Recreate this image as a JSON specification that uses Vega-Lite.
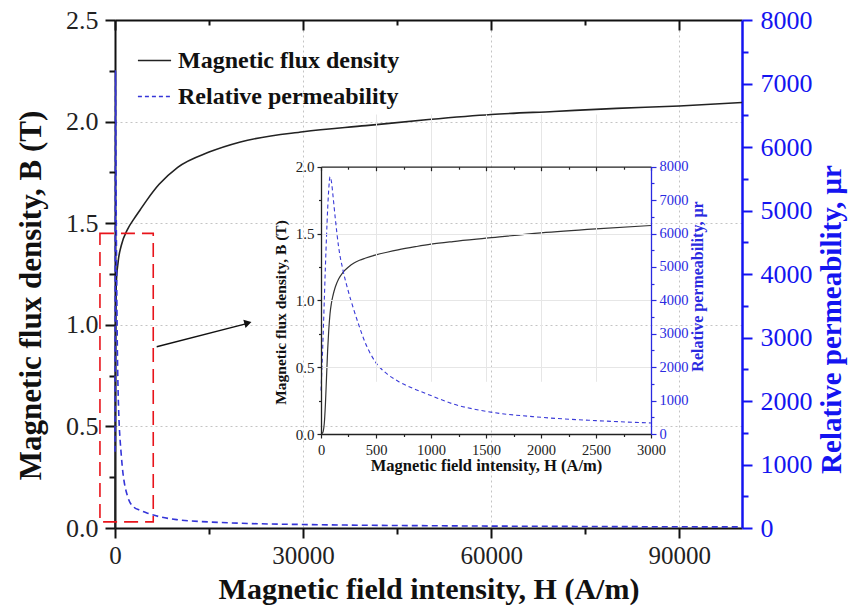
{
  "$schema": "https://vega.github.io/schema/vega-lite/v6.json",
  "width": 627,
  "height": 508,
  "autosize": {"type": "none"},
  "padding": {"left": 115, "top": 20, "right": 116, "bottom": 85},
  "background": "white",
  "config": {"view": {"stroke": null}, "font": "Liberation Serif"},
  "datasets": {
    "main": [
      {"H": 0, "B": 0, "mu": 1200},
      {"H": 80, "B": 0.9, "mu": 7200},
      {"H": 200, "B": 1.2, "mu": 4900},
      {"H": 500, "B": 1.31, "mu": 2130},
      {"H": 1000, "B": 1.39, "mu": 1150},
      {"H": 2000, "B": 1.47, "mu": 500},
      {"H": 3000, "B": 1.52, "mu": 330},
      {"H": 4000, "B": 1.565, "mu": 280},
      {"H": 5000, "B": 1.61, "mu": 240},
      {"H": 7000, "B": 1.69, "mu": 180},
      {"H": 10000, "B": 1.775, "mu": 130},
      {"H": 15000, "B": 1.85, "mu": 95},
      {"H": 20000, "B": 1.9, "mu": 75},
      {"H": 30000, "B": 1.95, "mu": 55},
      {"H": 40000, "B": 1.98, "mu": 43},
      {"H": 50000, "B": 2.01, "mu": 36},
      {"H": 60000, "B": 2.035, "mu": 30},
      {"H": 70000, "B": 2.05, "mu": 26},
      {"H": 80000, "B": 2.065, "mu": 22},
      {"H": 90000, "B": 2.077, "mu": 19},
      {"H": 100000, "B": 2.094, "mu": 17}
    ],
    "inset": [
      {"H": 0, "B": 0, "mu": 1300},
      {"H": 10, "B": 0.005, "mu": 2100},
      {"H": 20, "B": 0.02, "mu": 3000},
      {"H": 30, "B": 0.08, "mu": 4000},
      {"H": 40, "B": 0.22, "mu": 5000},
      {"H": 50, "B": 0.42, "mu": 5900},
      {"H": 60, "B": 0.62, "mu": 6700},
      {"H": 70, "B": 0.77, "mu": 7300},
      {"H": 82, "B": 0.9, "mu": 7700},
      {"H": 95, "B": 0.98, "mu": 7550},
      {"H": 110, "B": 1.04, "mu": 7100},
      {"H": 130, "B": 1.1, "mu": 6450},
      {"H": 160, "B": 1.16, "mu": 5600},
      {"H": 200, "B": 1.21, "mu": 4900},
      {"H": 250, "B": 1.25, "mu": 4250},
      {"H": 300, "B": 1.28, "mu": 3700},
      {"H": 350, "B": 1.3, "mu": 3200},
      {"H": 400, "B": 1.315, "mu": 2750},
      {"H": 500, "B": 1.34, "mu": 2130},
      {"H": 600, "B": 1.36, "mu": 1800},
      {"H": 700, "B": 1.378, "mu": 1580},
      {"H": 870, "B": 1.403, "mu": 1320},
      {"H": 1000, "B": 1.42, "mu": 1150},
      {"H": 1200, "B": 1.44, "mu": 900},
      {"H": 1500, "B": 1.465, "mu": 680},
      {"H": 2000, "B": 1.505, "mu": 500},
      {"H": 2500, "B": 1.535, "mu": 400},
      {"H": 3000, "B": 1.56, "mu": 330}
    ],
    "box": [{"x1": -2400, "x2": 6100, "y1": 0.03, "y2": 1.45}],
    "arrow": [{"x1": 6650, "y1": 0.892, "x2": 21000, "y2": 1.006, "hx": 21200, "hy": 1.009}]
  },
  "layer": [
    {
      "data": {"name": "main"},
      "mark": {"type": "point", "opacity": 0},
      "encoding": {
        "x": {"field": "H", "type": "quantitative", "scale": {"domain": [0, 100000], "nice": false},
          "axis": {"orient": "bottom", "values": [30000, 60000, 90000], "grid": true, "gridColor": "#c4c4c4", "gridDash": [2, 3], "gridWidth": 1,
            "ticks": false, "labels": false, "domain": false, "title": null}},
        "y": {"field": "B", "type": "quantitative", "scale": {"domain": [0, 2.5], "nice": false},
          "axis": {"orient": "left", "values": [0.5, 1, 1.5, 2], "grid": true, "gridColor": "#c4c4c4", "gridDash": [2, 3], "gridWidth": 1,
            "ticks": false, "labels": false, "domain": false, "title": null}}
      }
    },
    {
      "data": {"name": "main"},
      "mark": {"type": "line", "strokeWidth": 1.6, "interpolate": "monotone"},
      "encoding": {
        "x": {"field": "H", "type": "quantitative", "scale": {"domain": [0, 100000], "nice": false},
          "axis": {"orient": "bottom", "values": [0, 15000, 30000, 45000, 60000, 75000, 90000], "format": "d",
            "labelExpr": "datum.value % 30000 === 0 ? datum.label : ''",
            "title": "Magnetic field intensity, H (A/m)",
            "domainColor": "#111", "domainWidth": 2, "tickColor": "#111", "tickWidth": 2,
            "tickSize": {"condition": {"test": "datum.value % 30000 === 0", "value": 10}, "value": 6},
            "grid": false,
            "labelFont": "Liberation Serif", "labelFontSize": 25, "labelColor": "#222", "labelPadding": 5,
            "labelFlush": false, "labelOverlap": false,
            "titleFont": "Liberation Serif", "titleFontSize": 30, "titleFontWeight": "bold", "titleColor": "#111", "titlePadding": 6}},
        "y": {"field": "B", "type": "quantitative", "scale": {"domain": [0, 2.5], "nice": false},
          "axis": {"orient": "left", "values": [0, 0.25, 0.5, 0.75, 1, 1.25, 1.5, 1.75, 2, 2.25, 2.5],
            "labelExpr": "datum.value % 0.5 === 0 ? format(datum.value, '.1f') : ''",
            "title": "Magnetic flux density, B (T)", "titleY": 275,
            "domainColor": "#111", "domainWidth": 2, "tickColor": "#111", "tickWidth": 2,
            "tickSize": {"condition": {"test": "datum.value % 0.5 === 0", "value": 10}, "value": 6},
            "grid": false,
            "labelFont": "Liberation Serif", "labelFontSize": 26, "labelColor": "#222", "labelPadding": 7,
            "labelFlush": false, "labelOverlap": false,
            "titleFont": "Liberation Serif", "titleFontSize": 31, "titleFontWeight": "bold", "titleColor": "#111", "titlePadding": 18}},
        "color": {"datum": "Magnetic flux density", "type": "nominal",
          "scale": {"domain": ["Magnetic flux density", "Relative permeability"], "range": ["#222222", "#3535d8"]},
          "legend": {"orient": "none", "legendX": 22, "legendY": 23, "title": null, "padding": 0,
            "labelFont": "Liberation Serif", "labelFontSize": 24, "labelFontWeight": "bold", "labelColor": "#111",
            "symbolType": "stroke", "symbolSize": 1100, "symbolStrokeWidth": 1.6, "labelOffset": 6, "rowPadding": 6, "labelLimit": 500,
            "encode": {"symbols": {"update": {"strokeDash": {"signal": "datum.value === 'Relative permeability' ? [4, 3] : []"}}}}}}
      }
    },
    {
      "data": {"name": "main"},
      "mark": {"type": "line", "strokeWidth": 1.6, "strokeDash": [6, 4], "interpolate": "monotone"},
      "encoding": {
        "x": {"field": "H", "type": "quantitative", "scale": {"domain": [0, 100000], "nice": false}, "axis": null},
        "y": {"field": "mu", "type": "quantitative", "scale": {"domain": [0, 8000], "nice": false},
          "axis": {"orient": "right", "values": [0, 500, 1000, 1500, 2000, 2500, 3000, 3500, 4000, 4500, 5000, 5500, 6000, 6500, 7000, 7500, 8000], "format": "d",
            "labelExpr": "datum.value % 1000 === 0 ? datum.label : ''",
            "title": "Relative permeability, μr", "titleAngle": 270, "titleBaseline": "top", "titleY": 299,
            "domainColor": "#1414f0", "domainWidth": 2.5, "tickColor": "#1414f0", "tickWidth": 2,
            "tickSize": {"condition": {"test": "datum.value % 1000 === 0", "value": 10}, "value": 6},
            "grid": false,
            "labelFont": "Liberation Serif", "labelFontSize": 26, "labelColor": "#1414f0", "labelPadding": 8,
            "labelFlush": false, "labelOverlap": false,
            "titleFont": "Liberation Serif", "titleFontSize": 29, "titleFontWeight": "bold", "titleColor": "#1414f0", "titlePadding": 5}},
        "color": {"datum": "Relative permeability", "type": "nominal",
          "scale": {"domain": ["Magnetic flux density", "Relative permeability"], "range": ["#222222", "#3535d8"]}}
      }
    },
    {
      "data": {"name": "main"},
      "mark": {"type": "point", "opacity": 0},
      "encoding": {
        "x": {"field": "H", "type": "quantitative", "scale": {"domain": [0, 100000], "nice": false},
          "axis": {"orient": "top", "values": [0, 15000, 30000, 45000, 60000, 75000, 90000], "labels": false, "title": null,
            "domainColor": "#111", "domainWidth": 2, "tickColor": "#111", "tickWidth": 2,
            "tickSize": {"condition": {"test": "datum.value % 30000 === 0", "value": -10}, "value": -5},
            "grid": false}}
      }
    },
    {
      "data": {"name": "box"},
      "mark": {"type": "rect", "fillOpacity": 0, "stroke": "#e8141b", "strokeWidth": 1.6, "strokeDash": [14, 7]},
      "encoding": {
        "x": {"field": "x1", "type": "quantitative", "scale": {"domain": [0, 100000], "nice": false}, "axis": null},
        "x2": {"field": "x2"},
        "y": {"field": "y1", "type": "quantitative", "scale": {"domain": [0, 2.5], "nice": false}, "axis": null},
        "y2": {"field": "y2"}
      }
    },
    {
      "data": {"name": "arrow"},
      "mark": {"type": "rule", "stroke": "#111", "strokeWidth": 1.3},
      "encoding": {
        "x": {"field": "x1", "type": "quantitative", "scale": {"domain": [0, 100000], "nice": false}, "axis": null},
        "x2": {"field": "x2"},
        "y": {"field": "y1", "type": "quantitative", "scale": {"domain": [0, 2.5], "nice": false}, "axis": null},
        "y2": {"field": "y2"}
      }
    },
    {
      "data": {"name": "arrow"},
      "mark": {"type": "point", "shape": "triangle-right", "filled": true, "color": "#111", "opacity": 1, "size": 70, "angle": 345},
      "encoding": {
        "x": {"field": "hx", "type": "quantitative", "scale": {"domain": [0, 100000], "nice": false}, "axis": null},
        "y": {"field": "hy", "type": "quantitative", "scale": {"domain": [0, 2.5], "nice": false}, "axis": null}
      }
    },
    {
      "mark": {"type": "rect", "fill": "white", "stroke": null},
      "encoding": {
        "x": {"datum": -500, "type": "quantitative", "scale": {"domain": [0, 3000], "range": [206, 536], "nice": false}, "axis": null},
        "x2": {"datum": 3500},
        "y": {"datum": -0.35, "type": "quantitative", "scale": {"domain": [0, 2], "range": [414, 146.7], "nice": false}, "axis": null},
        "y2": {"datum": 2.13}
      }
    },
    {
      "data": {"name": "inset"},
      "mark": {"type": "point", "opacity": 0},
      "encoding": {
        "x": {"field": "H", "type": "quantitative", "scale": {"domain": [0, 3000], "range": [206, 536], "nice": false},
          "axis": {"orient": "bottom", "offset": -94, "zindex": 1, "values": [500, 1000, 1500, 2000, 2500], "grid": true, "gridColor": "#e6e6e6", "gridWidth": 1,
            "ticks": false, "labels": false, "domain": false, "title": null}},
        "y": {"field": "B", "type": "quantitative", "scale": {"domain": [0, 2], "range": [414, 146.7], "nice": false},
          "axis": {"orient": "left", "offset": -206, "zindex": 1, "values": [0.5, 1, 1.5], "grid": true, "gridColor": "#e6e6e6", "gridWidth": 1,
            "ticks": false, "labels": false, "domain": false, "title": null}}
      }
    },
    {
      "data": {"name": "inset"},
      "mark": {"type": "line", "strokeWidth": 1.2, "color": "#333333", "interpolate": "monotone"},
      "encoding": {
        "x": {"field": "H", "type": "quantitative", "scale": {"domain": [0, 3000], "range": [206, 536], "nice": false},
          "axis": {"orient": "bottom", "offset": -94, "zindex": 1, "values": [0, 250, 500, 750, 1000, 1250, 1500, 1750, 2000, 2250, 2500, 2750, 3000], "format": "d",
            "labelExpr": "datum.value % 500 === 0 ? datum.label : ''",
            "title": "Magnetic field intensity, H (A/m)",
            "domainColor": "#222", "domainWidth": 1.3, "tickColor": "#222", "tickWidth": 1.2,
            "tickSize": {"condition": {"test": "datum.value % 500 === 0", "value": 4}, "value": 2.5},
            "grid": false,
            "labelFont": "Liberation Serif", "labelFontSize": 14.5, "labelColor": "#222", "labelPadding": 5,
            "labelFlush": false, "labelOverlap": false,
            "titleFont": "Liberation Serif", "titleFontSize": 16.5, "titleFontWeight": "bold", "titleColor": "#111", "titlePadding": 1}},
        "y": {"field": "B", "type": "quantitative", "scale": {"domain": [0, 2], "range": [414, 146.7], "nice": false},
          "axis": {"orient": "left", "offset": -206, "zindex": 1, "values": [0, 0.25, 0.5, 0.75, 1, 1.25, 1.5, 1.75, 2],
            "labelExpr": "datum.value % 0.5 === 0 ? format(datum.value, '.1f') : ''",
            "title": "Magnetic flux density, B (T)", "titleY": 292,
            "domainColor": "#222", "domainWidth": 1.3, "tickColor": "#222", "tickWidth": 1.2,
            "tickSize": {"condition": {"test": "datum.value % 0.5 === 0", "value": 4}, "value": 2.5},
            "grid": false,
            "labelFont": "Liberation Serif", "labelFontSize": 15, "labelColor": "#222", "labelPadding": 3,
            "labelFlush": false, "labelOverlap": false,
            "titleFont": "Liberation Serif", "titleFontSize": 15.5, "titleFontWeight": "bold", "titleColor": "#111", "titlePadding": 7}}
      }
    },
    {
      "data": {"name": "inset"},
      "mark": {"type": "line", "strokeWidth": 1.1, "strokeDash": [4, 3], "color": "#3a3ad8", "interpolate": "monotone"},
      "encoding": {
        "x": {"field": "H", "type": "quantitative", "scale": {"domain": [0, 3000], "range": [206, 536], "nice": false}, "axis": null},
        "y": {"field": "mu", "type": "quantitative", "scale": {"domain": [0, 8000], "range": [414, 146.7], "nice": false},
          "axis": {"orient": "right", "offset": -91, "zindex": 1, "values": [0, 500, 1000, 1500, 2000, 2500, 3000, 3500, 4000, 4500, 5000, 5500, 6000, 6500, 7000, 7500, 8000], "format": "d",
            "labelExpr": "datum.value % 1000 === 0 ? datum.label : ''",
            "title": "Relative permeability, μr", "titleAngle": 270, "titleBaseline": "top", "titleY": 266,
            "domainColor": "#2a2ae0", "domainWidth": 1.3, "tickColor": "#2a2ae0", "tickWidth": 1.2,
            "tickSize": {"condition": {"test": "datum.value % 1000 === 0", "value": 5}, "value": 3},
            "grid": false,
            "labelFont": "Liberation Serif", "labelFontSize": 14.5, "labelColor": "#2a2ae0", "labelPadding": 3,
            "labelFlush": false, "labelOverlap": false,
            "titleFont": "Liberation Serif", "titleFontSize": 16, "titleFontWeight": "bold", "titleColor": "#2a2ae0", "titlePadding": 1}}
      }
    },
    {
      "data": {"name": "inset"},
      "mark": {"type": "point", "opacity": 0},
      "encoding": {
        "x": {"field": "H", "type": "quantitative", "scale": {"domain": [0, 3000], "range": [206, 536], "nice": false},
          "axis": {"orient": "top", "offset": -146.7, "zindex": 1, "values": [0, 250, 500, 750, 1000, 1250, 1500, 1750, 2000, 2250, 2500, 2750, 3000],
            "labels": false, "title": null,
            "domainColor": "#222", "domainWidth": 1.3, "tickColor": "#222", "tickWidth": 1.2,
            "tickSize": {"condition": {"test": "datum.value % 500 === 0", "value": -4}, "value": -2.5},
            "grid": false}}
      }
    }
  ],
  "resolve": {"scale": {"x": "independent", "y": "independent"}, "axis": {"x": "independent", "y": "independent"}}
}
